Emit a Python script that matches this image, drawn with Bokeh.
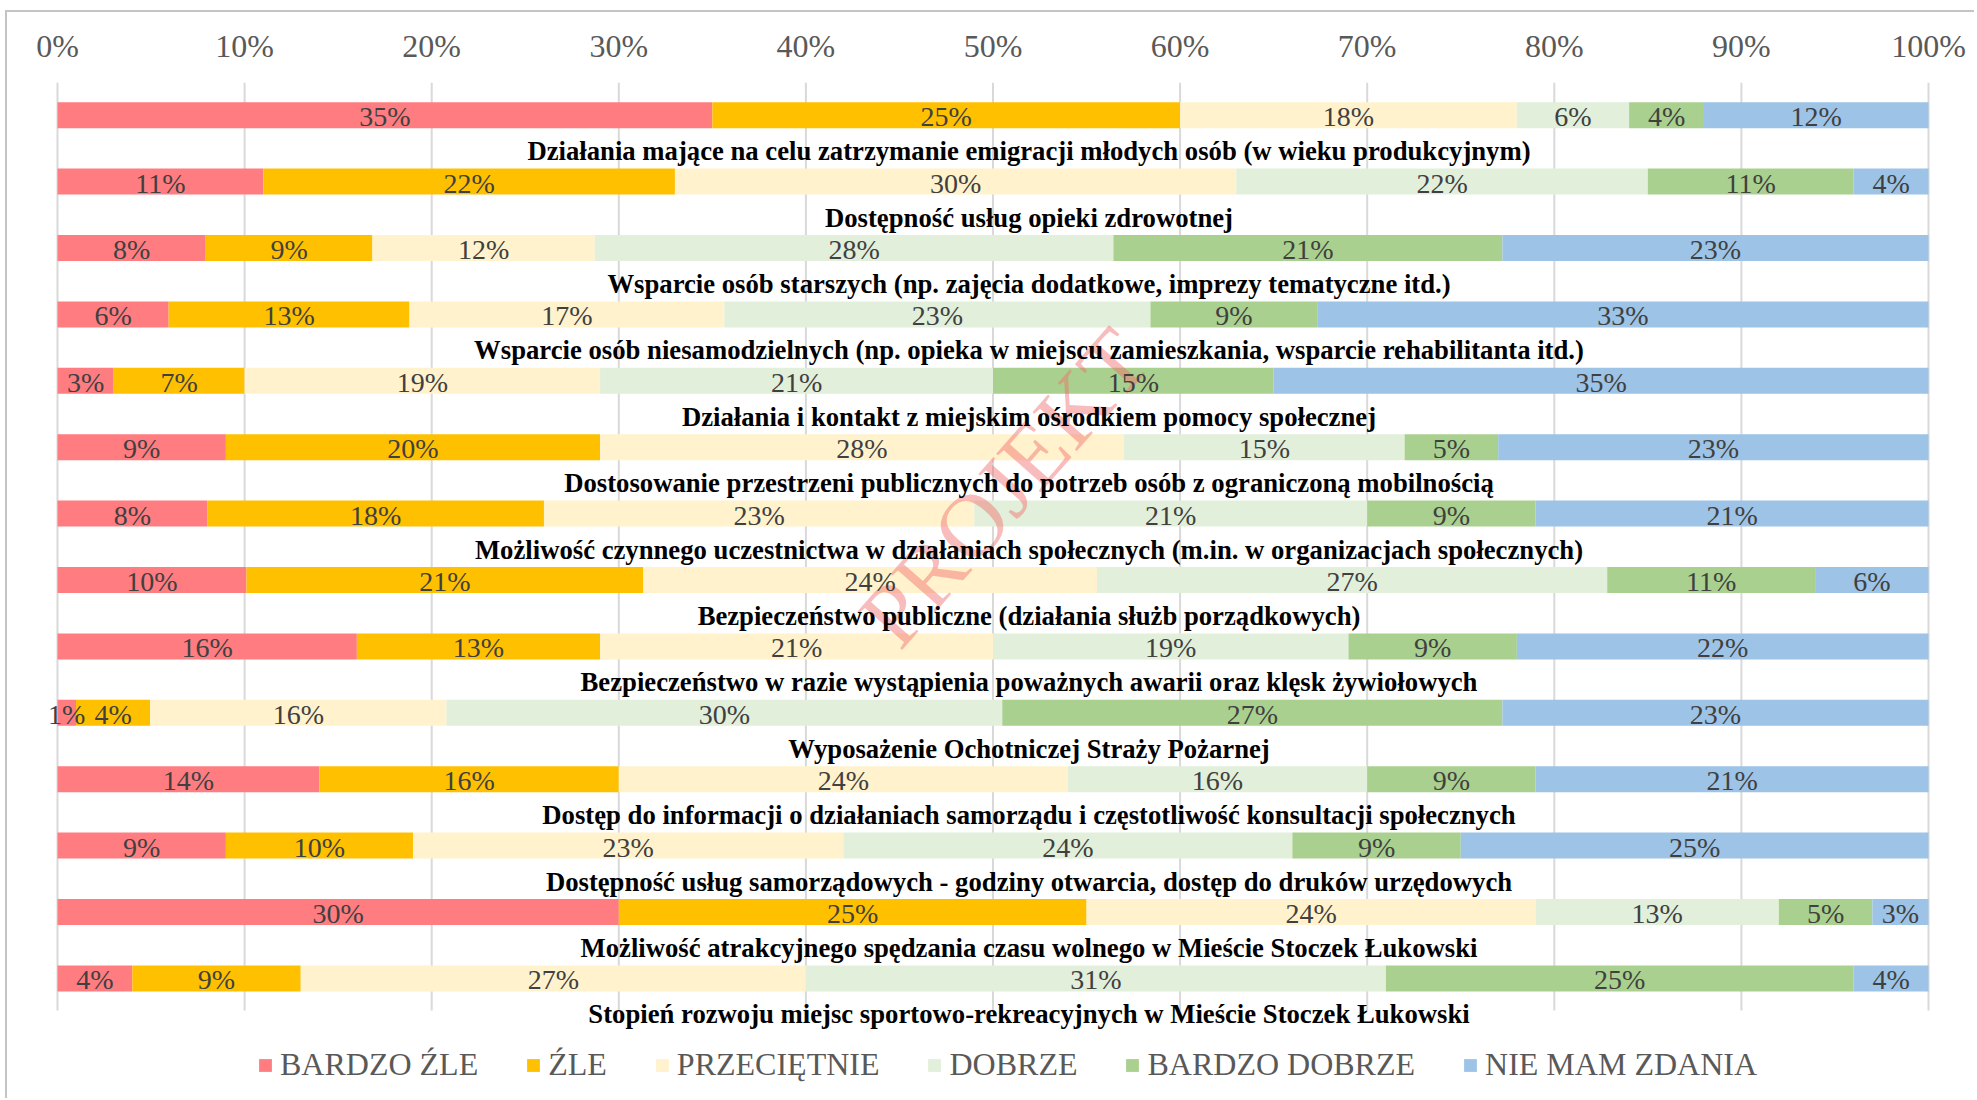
from bokeh.plotting import figure
from bokeh.models import ColumnDataSource, LabelSet, Legend, LegendItem, Range1d, FixedTicker
from bokeh.core.properties import value
from bokeh.embed import file_html
from bokeh.resources import INLINE

categories = [
    "Działania mające na celu zatrzymanie emigracji młodych osób (w wieku produkcyjnym)",
    "Dostępność usług opieki zdrowotnej",
    "Wsparcie osób starszych (np. zajęcia dodatkowe, imprezy tematyczne itd.)",
    "Wsparcie osób niesamodzielnych (np. opieka w miejscu zamieszkania, wsparcie rehabilitanta itd.)",
    "Działania i kontakt z miejskim ośrodkiem pomocy społecznej",
    "Dostosowanie przestrzeni publicznych do potrzeb osób z ograniczoną mobilnością",
    "Możliwość czynnego uczestnictwa w działaniach społecznych (m.in. w organizacjach społecznych)",
    "Bezpieczeństwo publiczne (działania służb porządkowych)",
    "Bezpieczeństwo w razie wystąpienia poważnych awarii oraz klęsk żywiołowych",
    "Wyposażenie Ochotniczej Straży Pożarnej",
    "Dostęp do informacji o działaniach samorządu i częstotliwość konsultacji społecznych",
    "Dostępność usług samorządowych - godziny otwarcia, dostęp do druków urzędowych",
    "Możliwość atrakcyjnego spędzania czasu wolnego w Mieście Stoczek Łukowski",
    "Stopień rozwoju miejsc sportowo-rekreacyjnych w Mieście Stoczek Łukowski",
]

series_names = ["BARDZO ŹLE", "ŹLE", "PRZECIĘTNIE", "DOBRZE", "BARDZO DOBRZE", "NIE MAM ZDANIA"]
series_colors = ["#FF7C80", "#FFC000", "#FFF2CC", "#E2EFDA", "#A9D08E", "#9DC3E6"]

bardzo_zle = [35, 11, 8, 6, 3, 9, 8, 10, 16, 1, 14, 9, 30, 4]
zle = [25, 22, 9, 13, 7, 20, 18, 21, 13, 4, 16, 10, 25, 9]
przecietnie = [18, 30, 12, 17, 19, 28, 23, 24, 21, 16, 24, 23, 24, 27]
dobrze = [6, 22, 28, 23, 21, 15, 21, 27, 19, 30, 16, 24, 13, 31]
bardzo_dobrze = [4, 11, 21, 9, 15, 5, 9, 11, 9, 27, 9, 9, 5, 25]
nie_mam_zdania = [12, 4, 23, 33, 35, 23, 21, 6, 22, 23, 21, 25, 3, 4]

tick_values = [0, 10, 20, 30, 40, 50, 60, 70, 80, 90, 100]
tick_labels = ["0%", "10%", "20%", "30%", "40%", "50%", "60%", "70%", "80%", "90%", "100%"]

watermark_text = "PROJEKT"

series_values = [bardzo_zle, zle, przecietnie, dobrze, bardzo_dobrze, nie_mam_zdania]
keys = ["s%d" % j for j in range(len(series_values))]

n = len(categories)
ys = [-i for i in range(n)]
row_sums = [sum(s[i] for s in series_values) for i in range(n)]

data = {"y": ys}
for k, s in zip(keys, series_values):
    data[k] = [s[i] / row_sums[i] * 100.0 for i in range(n)]
src = ColumnDataSource(data)

# data labels
lx, ly, lt = [], [], []
for i in range(n):
    acc = 0.0
    for s in series_values:
        v = s[i] / row_sums[i] * 100.0
        lx.append(acc + v / 2.0)
        ly.append(-i)
        lt.append("%d%%" % s[i])
        acc += v
lab_src = ColumnDataSource(dict(x=lx, y=ly, t=lt))
cat_src = ColumnDataSource(dict(x=[50] * n, y=ys, t=categories))

# ---- layout (pixels) ----
W, H = 1969, 1088          # canvas (placed at page x=8, y=12 via CSS margin+border)
FRAME_TOP = 70             # canvas px where gridlines start
X0, X100 = 50, 1921        # canvas px of 0% and 100%
PX = (X100 - X0) / 100.0
PITCH = 66.4
TOP_PAD = 32.7
GRID_LEN = 928
frame_h = H - FRAME_TOP
y_top = TOP_PAD / PITCH
y_bot = y_top - frame_h / PITCH
grid_bottom = y_top - GRID_LEN / PITCH

p = figure(
    width=W, height=H,
    output_backend="svg", toolbar_location=None,
    x_axis_location="above",
    x_range=Range1d(-X0 / PX, 100 + (W - X100) / PX),
    y_range=Range1d(y_bot, y_top),
    min_border_left=0, min_border_right=0, min_border_top=FRAME_TOP, min_border_bottom=0,
)
p.styles = {"margin-left": "5px", "margin-top": "10px",
            "border-top": "2px solid #C4C4C4", "border-left": "2px solid #C4C4C4"}
p.outline_line_color = None
p.background_fill_color = "white"
p.border_fill_color = "white"
p.yaxis.visible = False
p.ygrid.grid_line_color = None
p.xgrid.grid_line_color = None

ax = p.xaxis[0]
ax.ticker = FixedTicker(ticks=tick_values)
ax.major_label_overrides = {v: l for v, l in zip(tick_values, tick_labels)}
ax.axis_line_color = None
ax.major_tick_line_color = None
ax.minor_tick_line_color = None
ax.major_label_text_font = "Liberation Serif"
ax.major_label_text_font_size = "32px"
ax.major_label_text_color = "#595959"
ax.major_label_standoff = 13

# vertical gridlines (only over the bar area)
p.segment(x0=tick_values, x1=tick_values, y0=[y_top] * len(tick_values),
          y1=[grid_bottom] * len(tick_values), line_color="#D9D9D9", line_width=2)

renderers = p.hbar_stack(keys, y="y", height=26 / PITCH, fill_color=series_colors,
                         line_color=None, source=src)

labels = LabelSet(x="x", y="y", text="t", source=lab_src, y_offset=-11,
                  text_align="center", text_baseline="alphabetic",
                  text_font=value("Liberation Serif"), text_font_size="28px",
                  text_color="#404040")
p.add_layout(labels)

cats = LabelSet(x="x", y="y", text="t", source=cat_src, x_offset=36, y_offset=-45,
                text_align="center", text_baseline="alphabetic",
                text_font=value("Liberation Serif"), text_font_size="26.7px",
                text_font_style="bold", text_color="#000000")
p.add_layout(cats)

# watermark (red letters, drawn diagonally over the chart)
wm_src = ColumnDataSource(dict(x=[50.6], y=[y_top - 405 / PITCH], t=[watermark_text]))
p.text(x="x", y="y", text="t", source=wm_src, angle=0.85,
       text_align="center", text_baseline="middle",
       text_font=value("Liberation Serif"), text_font_size="90px",
       text_color="#F26B6B", text_alpha=0.45)

legend = Legend(
    items=[LegendItem(label=nm, renderers=[r]) for nm, r in zip(series_names, renderers)],
    orientation="horizontal", location=(250, 17),
    glyph_width=16, glyph_height=16, label_standoff=7, spacing=47,
    label_text_font="Liberation Serif", label_text_font_size="32px",
    label_text_color="#595959", border_line_color=None,
    background_fill_alpha=0, padding=0, margin=0,
)
p.add_layout(legend, "center")

open("out.html", "w").write(file_html(p, INLINE))
